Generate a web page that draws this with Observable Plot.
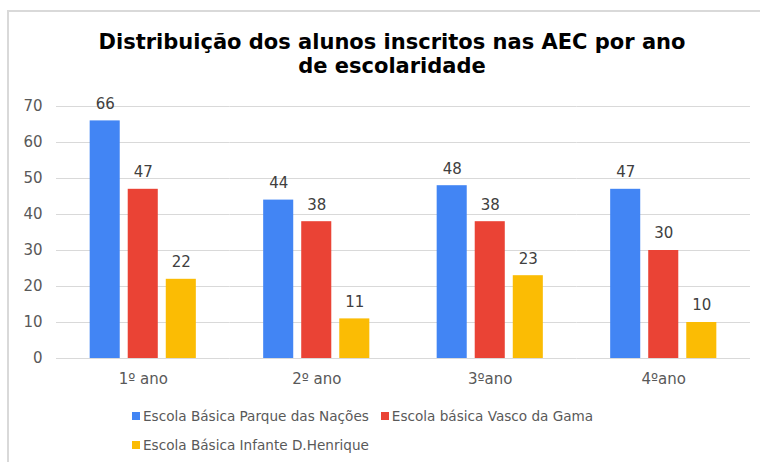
<!DOCTYPE html>
<html>
<head>
<meta charset="utf-8">
<script src="https://cdn.jsdelivr.net/npm/d3@7"></script>
<script src="https://cdn.jsdelivr.net/npm/@observablehq/plot@0.6"></script>
<style>
  html, body { margin: 0; padding: 0; background: #fff; }
  body { width: 760px; height: 462px; position: relative; overflow: hidden; font-family: "DejaVu Sans", Verdana, sans-serif; }
  #frame { position: absolute; left: 7px; top: 10px; width: 800px; height: 500px; border-top: 2px solid #d9d9d9; border-left: 2px solid #d9d9d9; }
  #title { position: absolute; left: 0; width: 784px; top: 30px; text-align: center; font-weight: bold; font-size: 21px; line-height: 24px; color: #000; }
  #chart { position: absolute; left: 0; top: 90px; }
  #legend { position: absolute; left: 132px; top: 407px; width: 490px; display: flex; flex-wrap: wrap; font-size: 13.6px; color: #595959; row-gap: 11px; }
  .item { display: flex; align-items: center; margin-right: 12px; line-height: 18px; white-space: nowrap; }
  .sw { width: 8px; height: 8px; margin-right: 3px; display: inline-block; }
</style>
</head>
<body>
<div id="frame"></div>
<div id="title">Distribuição dos alunos inscritos nas AEC por ano<br>de escolaridade</div>
<div id="chart"></div>
<div id="legend"></div>
<script>
const anos = ["1º ano", "2º ano", "3ºano", "4ºano"];
const escolas = ["Escola Básica Parque das Nações", "Escola básica Vasco da Gama", "Escola Básica Infante D.Henrique"];
const cores = ["#4285f4", "#ea4335", "#fbbc04"];
const parqueNacoes = [66, 44, 48, 47];
const vascoGama = [47, 38, 38, 30];
const infanteHenrique = [22, 11, 23, 10];
const yTicks = [0, 10, 20, 30, 40, 50, 60, 70];

const series = [parqueNacoes, vascoGama, infanteHenrique];
const data = [];
anos.forEach((ano, i) => {
  escolas.forEach((esc, j) => {
    data.push({ano, escola: esc, valor: series[j][i]});
  });
});

const chart = Plot.plot({
  width: 760,
  height: 300,
  marginLeft: 56,
  marginRight: 10,
  marginTop: 16,
  marginBottom: 32,
  style: {fontFamily: "'DejaVu Sans', Verdana, sans-serif", fontSize: "15px", color: "#595959", background: "transparent"},
  fx: {domain: anos, padding: 0, round: false, label: null},
  x: {domain: escolas, paddingInner: 0.21, paddingOuter: 0.885, round: false, axis: null},
  y: {domain: [0, 70], ticks: yTicks, label: null},
  color: {domain: escolas, range: cores},
  marks: [
    Plot.gridY(yTicks, {stroke: "#d9d9d9", strokeOpacity: 1, strokeWidth: 1}),
    Plot.axisY({ticks: yTicks, tickSize: 0, tickPadding: 14, label: null, fill: "#595959"}),
    Plot.axisFx({anchor: "bottom", tickSize: 0, tickPadding: 15, label: null, fill: "#595959"}),
    Plot.barY(data, {fx: "ano", x: "escola", y: "valor", fill: "escola"}),
    Plot.text(data, {fx: "ano", x: "escola", y: "valor", text: d => String(d.valor), dy: -17, fill: "#404040", fontSize: 15})
  ]
});
document.getElementById("chart").appendChild(chart);

const legend = document.getElementById("legend");
escolas.forEach((esc, j) => {
  const it = document.createElement("div");
  it.className = "item";
  const sw = document.createElement("span");
  sw.className = "sw";
  sw.style.background = cores[j];
  it.appendChild(sw);
  it.appendChild(document.createTextNode(esc));
  legend.appendChild(it);
});
</script>
</body>
</html>
